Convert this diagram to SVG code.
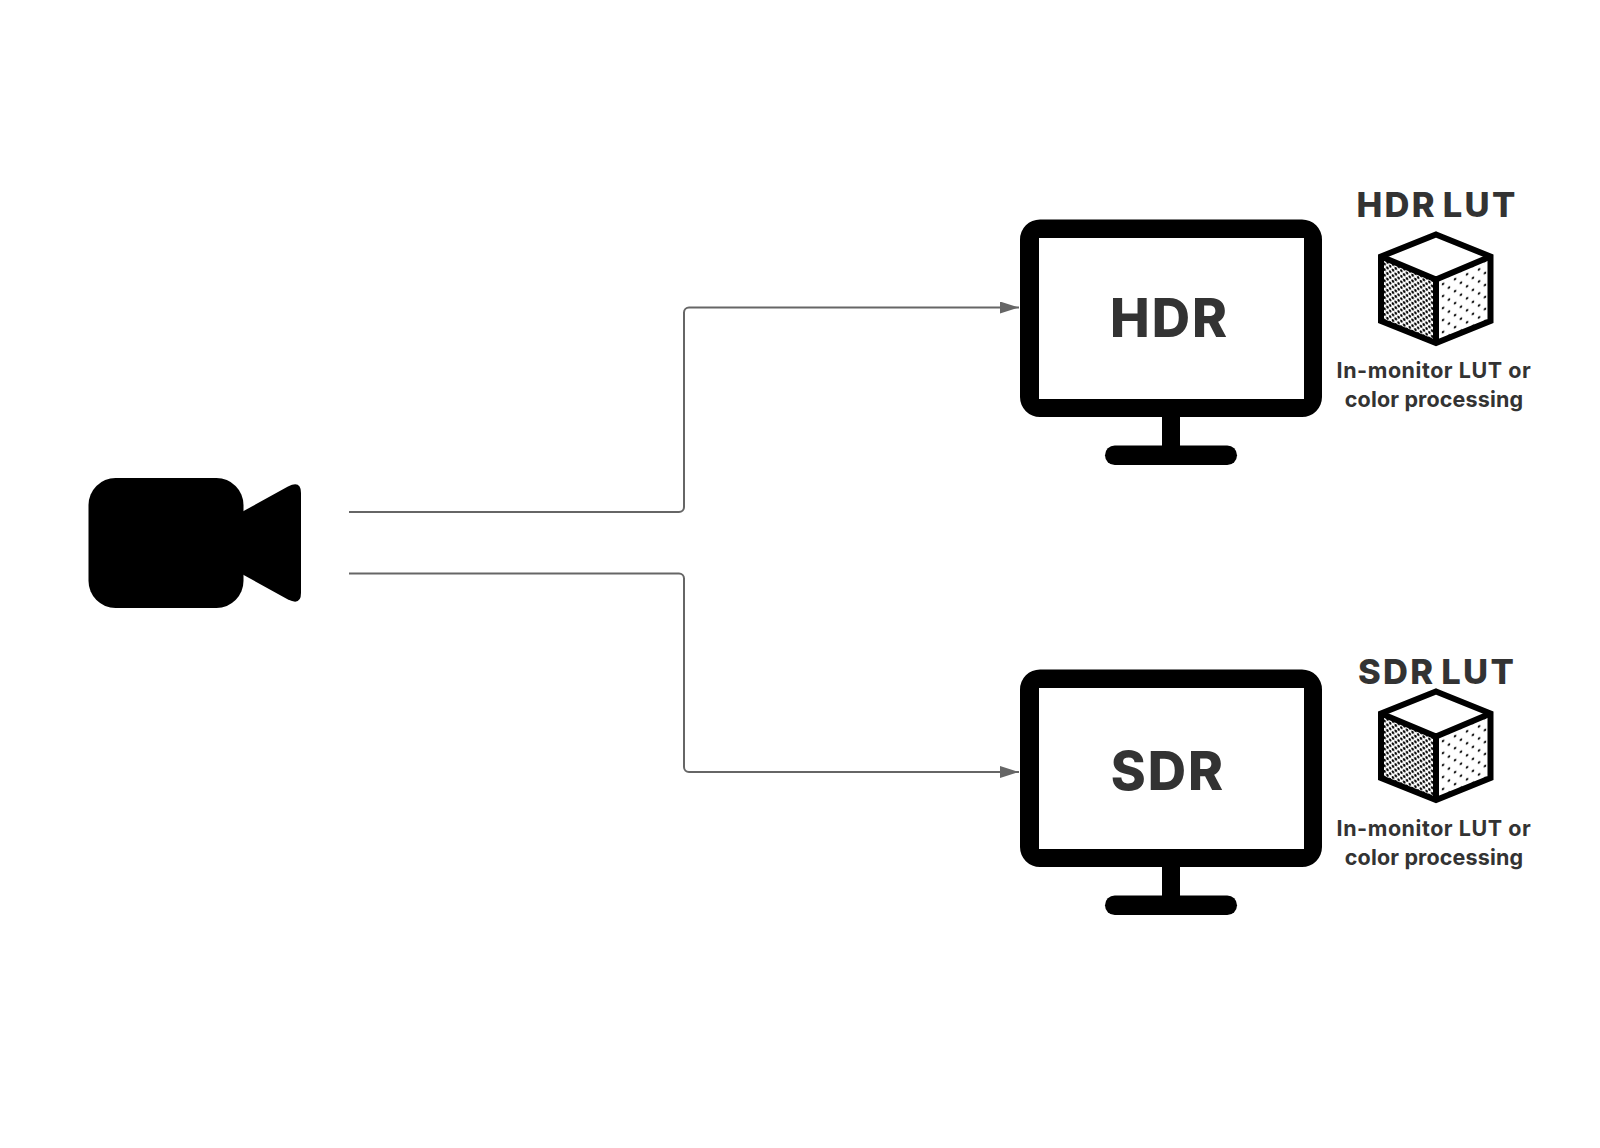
<svg xmlns="http://www.w3.org/2000/svg" width="1600" height="1148" viewBox="0 0 1600 1148">
  <style>
    .label { font-family: "Inter", "Liberation Sans", sans-serif; font-weight: 800; fill: #333; text-anchor: middle; }
    .screen { font-size: 53px; letter-spacing: 2px; }
    .lut { font-size: 34.500px; letter-spacing: 2.300px; word-spacing: -4px; }
    .note { font-size: 21.500px; font-weight: 700; letter-spacing: 0.550px; }
    .note.tight { letter-spacing: 0.150px; }
    .wire { fill: none; stroke: #666; stroke-width: 2; }
    .edge { fill: none; stroke: #000; stroke-width: 6; stroke-linejoin: miter; }
  </style>
  <defs>
    <marker id="head" markerUnits="userSpaceOnUse" markerWidth="20" markerHeight="12" refX="19" refY="6" orient="auto">
      <path d="M0 0L19 6L0 12Z" fill="#666"/>
    </marker>
    <pattern id="dense" width="5.600" height="5.600" patternUnits="userSpaceOnUse" patternTransform="skewY(22)">
      <rect width="5.600" height="5.600" fill="#fff"/>
      <circle cx="1.400" cy="1.400" r="1.300" fill="#000"/>
      <circle cx="4.200" cy="4.200" r="1.300" fill="#000"/>
    </pattern>
    <pattern id="sparse" width="12" height="12" patternUnits="userSpaceOnUse" patternTransform="skewY(-22)">
      <rect width="12" height="12" fill="#fff"/>
      <circle cx="3" cy="3" r="1.250" fill="#000"/>
      <circle cx="9" cy="9" r="1.250" fill="#000"/>
    </pattern>
    <g id="monitor">
      <path fill-rule="evenodd" d="M1040 219.500H1302A20 20 0 0 1 1322 239.500V397A20 20 0 0 1 1302 417H1040A20 20 0 0 1 1020 397V239.500A20 20 0 0 1 1040 219.500ZM1039 238V399H1304V238Z" fill="#000"/>
      <rect x="1162" y="416" width="18" height="30" fill="#000"/>
      <rect x="1105" y="445.500" width="132" height="19.500" rx="9.750" fill="#000"/>
    </g>
    <g id="cube">
      <path d="M1436 279.500L1381 256.500V321L1436 343Z" fill="url(#dense)"/>
      <path d="M1436 279.500L1490.500 256.500V321L1436 343Z" fill="url(#sparse)"/>
      <path class="edge" d="M1436 234.500L1490.500 256.500V321L1436 343L1381 321V256.500Z"/>
      <path class="edge" d="M1381 256.500L1436 279.500L1490.500 256.500M1436 279.500V343"/>
    </g>
  </defs>

  <rect width="1600" height="1148" fill="#fff"/>

  <g id="connectors">
    <path class="wire" marker-end="url(#head)" d="M349 512H679A5 5 0 0 0 684 507V312.500A5 5 0 0 1 689 307.500H1019"/>
    <path class="wire" marker-end="url(#head)" d="M349 573.500H679A5 5 0 0 1 684 578.500V767A5 5 0 0 0 689 772H1019"/>
  </g>

  <g id="camera">
    <rect x="88.500" y="478" width="155" height="130" rx="27" fill="#000"/>
    <path d="M240 513L288 486.500Q301 480 301 493V593Q301 606 288 599.500L240 573Z" fill="#000"/>
  </g>

  <g id="hdr-monitor">
    <use href="#monitor"/>
    <text class="label screen" x="1169.500" y="337">HDR</text>
  </g>
  <g id="hdr-lut">
    <text class="label lut" x="1437" y="217">HDR LUT</text>
    <use href="#cube"/>
    <text class="label note" x="1434" y="377.500">In-monitor LUT or</text>
    <text class="label note tight" x="1434" y="406.500">color processing</text>
  </g>

  <g id="sdr-monitor">
    <use href="#monitor" y="450"/>
    <text class="label screen" x="1168" y="790">SDR</text>
  </g>
  <g id="sdr-lut">
    <text class="label lut" x="1437" y="684">SDR LUT</text>
    <use href="#cube" y="457"/>
    <text class="label note" x="1434" y="835.500">In-monitor LUT or</text>
    <text class="label note tight" x="1434" y="864.500">color processing</text>
  </g>
</svg>
